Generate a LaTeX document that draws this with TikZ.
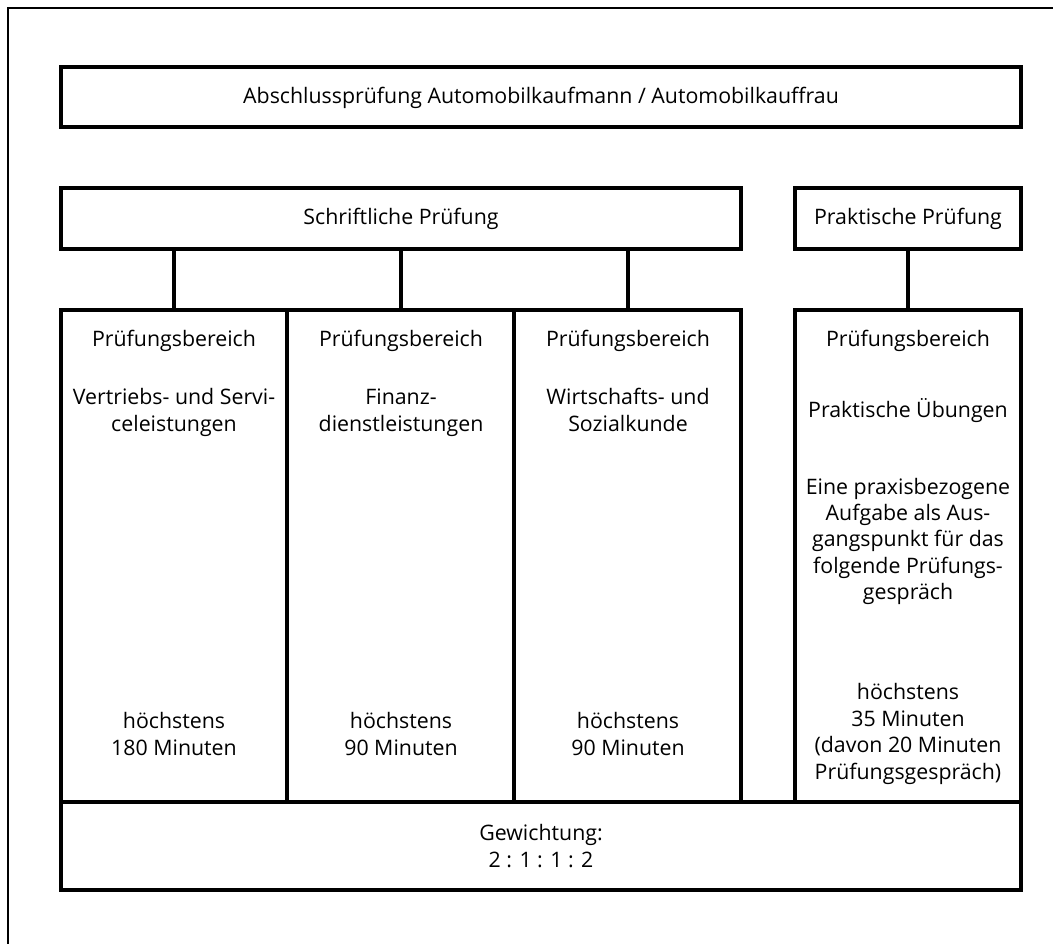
\documentclass[tikz,border=0pt]{standalone}
\usepackage{fontspec}
\setmainfont{Open Sans}
\begin{document}
\begin{tikzpicture}[x=0.75pt,y=-0.75pt]
\tikzset{
  frameline/.style={line width=1.5pt},
  pbox/.style={draw, line width=3pt, rectangle, inner sep=0pt},
  conn/.style={line width=3pt},
  txt/.style={font=\fontsize{16}{19.8}\selectfont, align=center, anchor=base, inner sep=0pt},
}
\useasboundingbox (0,0) rectangle (1063,944);
% page frame (left and top only)
\draw[frameline] (8,944) -- (8,7.7) -- (1053,7.7);
% boxes
\node[pbox, minimum width=720pt, minimum height=45pt] (title) at (541,97) {};
\node[pbox, minimum width=510pt, minimum height=45.75pt] (schr) at (401,218.5) {};
\node[pbox, minimum width=169.5pt, minimum height=45.75pt] (prak) at (908,218.5) {};
\node[pbox, minimum width=169.5pt, minimum height=369pt] (c1) at (174,556) {};
\node[pbox, minimum width=170.25pt, minimum height=369pt] (c2) at (400.5,556) {};
\node[pbox, minimum width=170.25pt, minimum height=369pt] (c3) at (627.5,556) {};
\node[pbox, minimum width=169.5pt, minimum height=369pt] (c4) at (908,556) {};
\node[pbox, minimum width=720pt, minimum height=66pt] (gew) at (541,846) {};
% connectors
\draw[conn] (c1.north |- schr.south) -- (c1.north);
\draw[conn] (c2.north |- schr.south) -- (c2.north);
\draw[conn] (c3.north |- schr.south) -- (c3.north);
\draw[conn] (prak.south) -- (c4.north);
% texts (anchor = baseline of the last line)
\node[txt] (t0) at (541,104) {Abschlussprüfung Automobilkaufmann / Automobilkauffrau};
\node[txt] (ts) at (401,225) {Schriftliche Prüfung};
\node[txt] (tp) at (908,225) {Praktische Prüfung};
\node[txt] (h1) at (174,347) {Prüfungsbereich};
\node[txt] (h2) at (401,347) {Prüfungsbereich};
\node[txt] (h3) at (628,347) {Prüfungsbereich};
\node[txt] (h4) at (908,347) {Prüfungsbereich};
\node[txt] (s1) at (174,431.4) {Vertriebs- und Servi-\\celeistungen};
\node[txt] (s2) at (401,431.4) {Finanz-\\dienstleistungen};
\node[txt] (s3) at (628,431.4) {Wirtschafts- und\\Sozialkunde};
\node[txt] (s4) at (908,418) {Praktische Übungen};
\node[txt] (d4) at (908,599.6) {Eine praxisbezogene\\Aufgabe als Aus-\\gangspunkt für das\\folgende Prüfungs-\\gespräch};
\node[txt] (m1) at (174,755) {höchstens\\180 Minuten};
\node[txt] (m2) at (401,755) {höchstens\\90 Minuten};
\node[txt] (m3) at (628,755) {höchstens\\90 Minuten};
\node[txt] (m4) at (908,779) {höchstens\\35 Minuten\\(davon 20 Minuten\\Prüfungsgespräch)};
\node[txt] (tg) at (541,867) {Gewichtung:\\2 : 1 : 1 : 2};
\end{tikzpicture}
\end{document}
